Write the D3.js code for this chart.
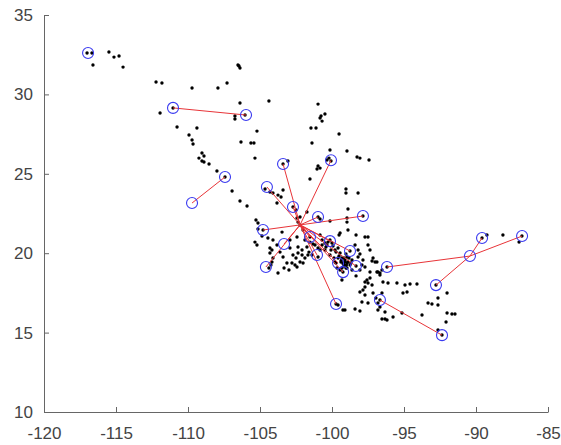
<!DOCTYPE html>
<html>
<head>
<meta charset="utf-8">
<script src="https://cdn.jsdelivr.net/npm/d3@7"></script>
<style>
  body { margin: 0; background: #fff; }
  svg { display: block; }
  .axis text { font-family: "Liberation Sans", Arial, Helvetica, sans-serif; font-size: 17px; fill: #444; }
  .axis path, .axis line { stroke: #666; }
</style>
</head>
<body>
<script>
var w = 561;
var h = 445;

// demand points [lon, lat]
var demand = [
  [-117.01,32.61],[-116.67,32.61],[-116.60,31.85],[-115.49,32.67],[-115.14,32.35],[-114.79,32.42],[-114.51,31.72],
  [-112.22,30.78],[-111.81,30.72],[-109.72,30.40],[-107.92,30.40],[-107.29,30.72],[-106.46,31.79],[-106.39,31.66],
  [-106.53,31.85],[-104.38,29.58],[-111.94,28.83],[-111.04,29.14],[-106.39,29.46],[-106.74,28.64],[-106.74,28.45],
  [-106.04,28.70],[-110.76,27.95],[-109.38,27.88],[-105.21,27.69],[-109.93,27.44],[-109.72,27.13],[-109.65,26.88],
  [-106.32,27.00],[-105.63,26.94],[-105.42,26.94],[-105.35,25.99],[-109.03,26.31],[-108.89,26.12],[-109.24,25.99],
  [-109.03,25.81],[-108.89,25.74],[-108.54,25.62],[-107.99,25.18],[-107.43,24.80],[-106.94,23.92],[-106.39,23.29],
  [-105.90,22.97],[-104.65,24.04],[-104.31,23.85],[-104.10,23.79],[-103.75,23.66],[-103.54,23.54],[-103.40,23.98],
  [-103.82,23.16],
  [-103.06,25.81],[-103.40,25.62],[-101.53,24.67],[-101.39,26.94],[-101.46,27.88],[-101.11,27.88],[-100.97,29.39],
  [-100.83,28.51],[-100.69,28.32],[-100.49,28.77],[-100.76,28.64],[-99.51,27.51],[-100.14,26.50],[-100.07,25.81],
  [-100.97,25.49],[-100.83,25.36],[-101.04,25.30],[-100.35,25.87],[-100.21,25.99],[-98.96,26.44],[-98.26,26.06],
  [-98.06,25.99],[-97.43,25.87],[-99.03,24.04],[-99.03,23.79],[-98.19,23.79],[-98.89,22.78],[-102.50,22.72],
  [-102.71,22.91],[-101.74,22.59],[-102.22,22.28],[-100.97,22.28],[-100.83,22.15],[-100.14,22.03],[-98.96,22.22],
  [-98.96,21.96],[-98.89,21.46],[-105.28,22.09],[-105.14,21.90],[-105.14,21.52],[-102.43,22.22],[-99.44,21.27],
  [-98.33,21.15],[-97.71,21.02],[-97.50,21.02],[-97.85,22.34],
  [-104.79,21.46],[-104.10,20.83],[-103.82,20.52],[-104.31,20.33],[-105.35,20.70],[-105.21,20.52],[-102.43,21.02],
  [-102.36,20.39],[-102.08,20.20],[-104.17,20.20],[-104.31,20.01],[-104.17,19.45],[-104.10,19.70],[-104.38,19.07],
  [-104.24,19.26],[-103.75,18.75],[-102.78,19.38],[-102.57,19.26],[-102.22,19.45],[-102.01,19.38],[-102.43,19.13],
  [-102.36,20.01],[-102.92,20.33],[-101.74,20.39],[-101.67,19.89],[-101.39,19.89],[-100.97,19.76],[-100.69,20.52],
  [-100.49,20.64],[-100.28,20.70],[-100.00,20.64],[-100.14,20.83],[-100.69,20.83],[-100.83,21.15],[-100.35,20.52],
  [-99.51,21.15],[-99.79,20.20],[-99.58,20.33],[-99.44,20.01],[-99.31,19.70],[-99.10,19.57],[-98.96,19.38],
  [-99.24,19.38],[-98.96,19.76],[-99.17,19.19],[-99.31,19.07],[-99.44,18.94],[-99.03,19.07],[-98.89,19.45],
  [-98.61,19.57],[-98.75,19.26],[-99.65,19.07],[-99.72,19.38],[-99.86,19.70],[-100.14,19.89],[-100.49,20.20],
  [-100.83,20.20],[-101.18,20.52],[-101.53,20.70],[-101.88,20.83],[-99.31,18.31],[-103.40,19.76],[-103.13,19.38],
  [-102.71,19.89],[-102.08,19.89],[-101.53,21.02],[-98.75,20.14],[-98.33,19.19],[-99.24,18.82],[-99.72,16.80],
  [-102.22,21.78],[-102.36,21.96],[-102.01,21.46],[-99.10,19.45],[-99.20,19.30],[-99.00,19.25],[-99.35,19.55],
  [-99.93,20.45],[-99.72,20.07],[-99.51,19.82],[-99.38,19.45],[-99.17,19.70],[-99.03,19.95],[-98.82,19.70],
  [-98.68,19.38],[-98.96,19.07],[-98.61,18.94],[-99.58,19.70],[-99.79,19.45],[-100.07,20.20],[-100.42,20.39],
  [-100.97,20.33],[-101.32,20.58],[-101.60,20.07],[-101.88,19.70],[-102.50,19.70],[-102.99,18.94],[-103.33,19.07],
  [-104.86,21.08],[-104.45,20.96],[-103.47,21.33],[-102.92,20.83],[-103.61,20.07],[-98.40,20.52],[-98.19,20.20],
  [-97.92,19.26],[-98.33,18.57],[-97.22,18.00],[-96.95,17.18],
  [-98.19,19.76],[-97.85,19.57],[-97.15,19.70],[-97.01,19.45],[-98.06,18.94],[-97.36,18.82],[-96.88,18.82],
  [-97.57,18.31],[-97.71,17.87],[-97.85,17.68],[-97.71,17.37],[-97.92,16.93],[-97.50,16.86],[-97.50,20.52],
  [-97.36,20.20],[-98.06,19.95],[-97.22,19.51],[-96.88,19.45],[-97.71,19.13],[-96.81,18.82],[-96.67,18.75],
  [-96.53,18.94],[-97.36,18.44],[-97.71,18.19],[-97.50,18.12],[-96.46,18.19],[-96.11,18.12],[-95.49,18.12],
  [-94.93,18.00],[-94.58,18.06],[-94.10,18.06],[-98.06,17.56],[-97.15,17.49],[-96.53,17.49],[-95.07,17.49],
  [-94.79,17.56],[-96.81,16.86],[-96.67,16.61],[-96.32,16.30],[-96.81,16.42],[-96.67,17.05],[-96.18,19.13],
  [-99.58,16.74],[-99.24,16.42],[-98.40,16.49],[-98.06,16.36],[-99.10,16.42],[-96.53,15.86],[-96.32,15.86],
  [-96.18,15.79],[-95.76,15.98],[-95.14,16.23],[-93.75,16.11],[-96.67,18.63],
  [-92.78,18.00],[-92.64,17.18],[-93.33,16.86],[-93.06,16.80],[-92.64,16.74],[-92.01,17.49],[-92.01,16.23],
  [-91.67,16.17],[-91.46,16.17],[-92.08,15.67],[-92.64,15.16],[-92.36,14.85],[-89.58,20.96],[-89.24,21.15],
  [-88.13,21.15],[-86.81,21.08],[-87.01,20.70]
];

// facilities (blue circles) [lon, lat]
var facilities = [
  [-116.94,32.61],[-111.04,29.15],[-105.97,28.70],[-107.43,24.80],[-109.72,23.16],[-104.52,24.17],
  [-103.40,25.62],[-100.07,25.85],[-102.71,22.91],[-100.97,22.28],[-97.85,22.34],[-104.79,21.46],
  [-103.33,20.58],[-104.59,19.13],[-101.53,21.02],[-100.14,20.76],[-98.75,20.14],[-101.04,19.89],
  [-99.58,19.38],[-98.34,19.19],[-99.23,18.81],[-99.72,16.80],[-96.18,19.13],[-90.42,19.82],
  [-89.58,20.96],[-86.80,21.08],[-92.78,17.99],[-96.67,17.05],[-92.36,14.84]
];

// central node and its links (indices into facilities)
var hub = [-102.22, 21.78];
var hubLinks = [5,6,7,8,9,10,11,12,13,14,15,16,17,18,19,20,21];
var pairLinks = [[1,2],[4,3],[22,23],[23,24],[23,25],[23,26],[27,28]];

var xTicks = [-120,-115,-110,-105,-100,-95,-90,-85];
var yTicks = [10,15,20,25,30,35];

var svg = d3.select("body").append("svg")
    .attr("width", w)
    .attr("height", h);

var x = d3.scaleLinear().domain([-120, -85]).range([44, 548]);
var y = d3.scaleLinear().domain([10, 35]).range([412, 15]);

// axes (ticks inward, no box)
svg.append("g")
    .attr("class", "axis")
    .attr("transform", "translate(0,412)")
    .call(d3.axisBottom(x).tickValues(xTicks).tickSizeInner(-5).tickSizeOuter(0)
        .tickPadding(15).tickFormat(function(d){ return String(d); }));

svg.append("g")
    .attr("class", "axis")
    .attr("transform", "translate(44,0)")
    .call(d3.axisLeft(y).tickValues(yTicks).tickSizeInner(-5).tickSizeOuter(0)
        .tickPadding(11).tickFormat(function(d){ return String(d); }));

// demand points
svg.append("g").selectAll("circle")
    .data(demand)
    .enter().append("circle")
    .attr("cx", function(d){ return x(d[0]); })
    .attr("cy", function(d){ return y(d[1]); })
    .attr("r", 1.7)
    .attr("fill", "#000");

// links
var links = hubLinks.map(function(i){ return [hub, facilities[i]]; })
    .concat(pairLinks.map(function(p){ return [facilities[p[0]], facilities[p[1]]]; }));

svg.append("g").selectAll("line")
    .data(links)
    .enter().append("line")
    .attr("x1", function(d){ return x(d[0][0]); })
    .attr("y1", function(d){ return y(d[0][1]); })
    .attr("x2", function(d){ return x(d[1][0]); })
    .attr("y2", function(d){ return y(d[1][1]); })
    .attr("stroke", "#e83438")
    .attr("stroke-width", 1);

// facilities
svg.append("g").selectAll("circle")
    .data(facilities)
    .enter().append("circle")
    .attr("cx", function(d){ return x(d[0]); })
    .attr("cy", function(d){ return y(d[1]); })
    .attr("r", 5.5)
    .attr("fill", "none")
    .attr("stroke", "#3a3af0")
    .attr("stroke-width", 1.1);
</script>
</body>
</html>
